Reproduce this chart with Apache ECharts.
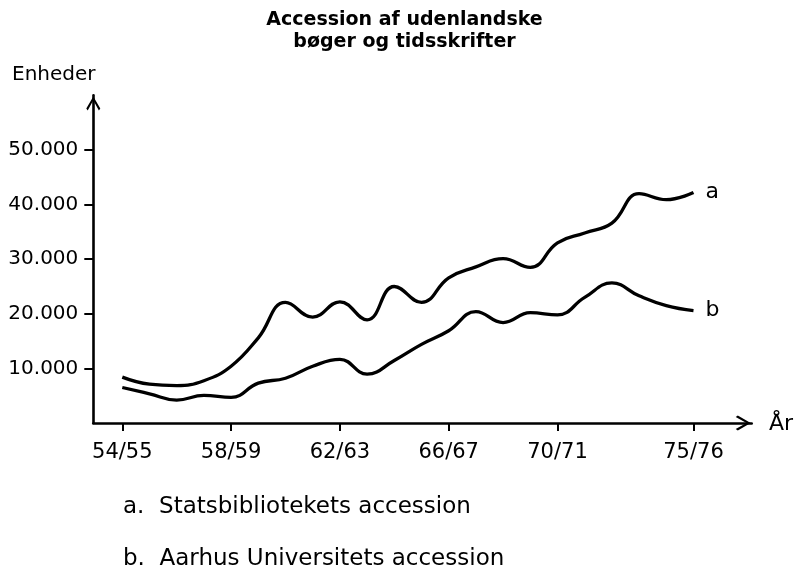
<!DOCTYPE html>
<html>
<head>
<meta charset="utf-8">
<script src="https://cdn.jsdelivr.net/npm/echarts@6/dist/echarts.min.js"></script>
<style>
html,body{margin:0;padding:0;background:#fff;}
#chart{width:796px;height:574px;}
</style>
</head>
<body>
<div id="chart"></div>
<script>
// ---- data ----
const years = ['54/55','55/56','56/57','57/58','58/59','59/60','60/61','61/62','62/63','63/64','64/65',
               '65/66','66/67','67/68','68/69','69/70','70/71','71/72','72/73','73/74','74/75','75/76'];
const seriesA = [8400, 7100, 6850, 7750, 10400, 15600, 22100, 19400, 22200, 18900, 25000,
                 22100, 26600, 28600, 30100, 28500, 33000, 34800, 36600, 42000, 40900, 42200];
const seriesB = [6500, 5350, 4200, 5050, 4700, 7300, 8200, 10400, 11650, 8950, 11450,
                 14400, 16900, 20400, 18400, 20200, 19800, 23000, 25650, 23300, 21500, 20600];
const xTickIdx = [0, 4, 8, 12, 16, 21];
const yTicks = [10000, 20000, 30000, 40000, 50000];
const seriesNames = ['a', 'b'];
const noteTexts = ['a.  Statsbibliotekets accession', 'b.  Aarhus Universitets accession'];
const titleLines = ['Accession af udenlandske', 'bøger og tidsskrifter'];

const FONT = 'DejaVu Sans';
const chevron = 'path://M50,0 L100,86 L90,100 L50,28 L10,100 L0,86 Z';

const chart = echarts.init(document.getElementById('chart'), null, {renderer: 'canvas'});

function fmtThousands(v) {
  return String(v).replace(/\B(?=(\d{3})+(?!\d))/g, '.');
}

const option = {
  backgroundColor: '#ffffff',
  animation: false,
  grid: {left: 93.3, right: 44.3, top: 95.4, bottom: 151, containLabel: false},
  xAxis: {
    type: 'value',
    min: -1.066,
    max: 23.14,
    splitLine: {show: false},
    axisLine: {
      show: true, onZero: false,
      lineStyle: {color: '#000', width: 2.6},
      symbol: ['none', chevron],
      symbolSize: [15, 17],
      symbolOffset: [0, -8.5]
    },
    axisTick: {show: true, inside: false, length: 8, lineStyle: {color: '#000', width: 2},
               customValues: xTickIdx},
    axisLabel: {
      customValues: xTickIdx,
      formatter: v => years[Math.round(v)],
      color: '#000', fontFamily: FONT, fontSize: 21, margin: 19
    }
  },
  yAxis: {
    type: 'value',
    min: 0,
    max: 60000,
    interval: 10000,
    splitLine: {show: false},
    axisLine: {
      show: true, onZero: false,
      lineStyle: {color: '#000', width: 2.6},
      symbol: ['none', chevron],
      symbolSize: [14, 16],
      symbolOffset: [0, -8]
    },
    axisTick: {show: true, inside: false, length: 9, lineStyle: {color: '#000', width: 2},
               customValues: yTicks},
    axisLabel: {
      customValues: yTicks,
      formatter: v => fmtThousands(v),
      color: '#000', fontFamily: FONT, fontSize: 20, margin: 15
    }
  },
  series: [seriesA, seriesB].map((arr, k) => ({
    name: seriesNames[k],
    type: 'line',
    smooth: 0.45,
    symbol: 'none',
    data: arr.map((v, i) => [i, v]),
    lineStyle: {color: '#000', width: 3.3},
    itemStyle: {color: '#000'},
    endLabel: {
      show: true,
      formatter: seriesNames[k],
      color: '#000', fontFamily: FONT, fontSize: 22, distance: 12
    }
  })),
  graphic: [
    {type: 'text', x: 404.5, y: 20, style: {text: titleLines[0], fontFamily: FONT, fontWeight: 'bold', fontSize: 19, fill: '#000', align: 'center', verticalAlign: 'middle'}},
    {type: 'text', x: 404.5, y: 41.7, style: {text: titleLines[1], fontFamily: FONT, fontWeight: 'bold', fontSize: 19, fill: '#000', align: 'center', verticalAlign: 'middle'}},
    {type: 'text', x: 12, y: 75, style: {text: 'Enheder', fontFamily: FONT, fontSize: 20, fill: '#000', align: 'left', verticalAlign: 'middle'}},
    {type: 'text', x: 769, y: 424, style: {text: 'År', fontFamily: FONT, fontSize: 22, fill: '#000', align: 'left', verticalAlign: 'middle'}},
    {type: 'text', x: 123, y: 507, style: {text: noteTexts[0], fontFamily: FONT, fontSize: 23, fill: '#000', align: 'left', verticalAlign: 'middle'}},
    {type: 'text', x: 123, y: 559.5, style: {text: noteTexts[1], fontFamily: FONT, fontSize: 23, fill: '#000', align: 'left', verticalAlign: 'middle'}}
  ]
};
chart.setOption(option);
</script>
</body>
</html>
